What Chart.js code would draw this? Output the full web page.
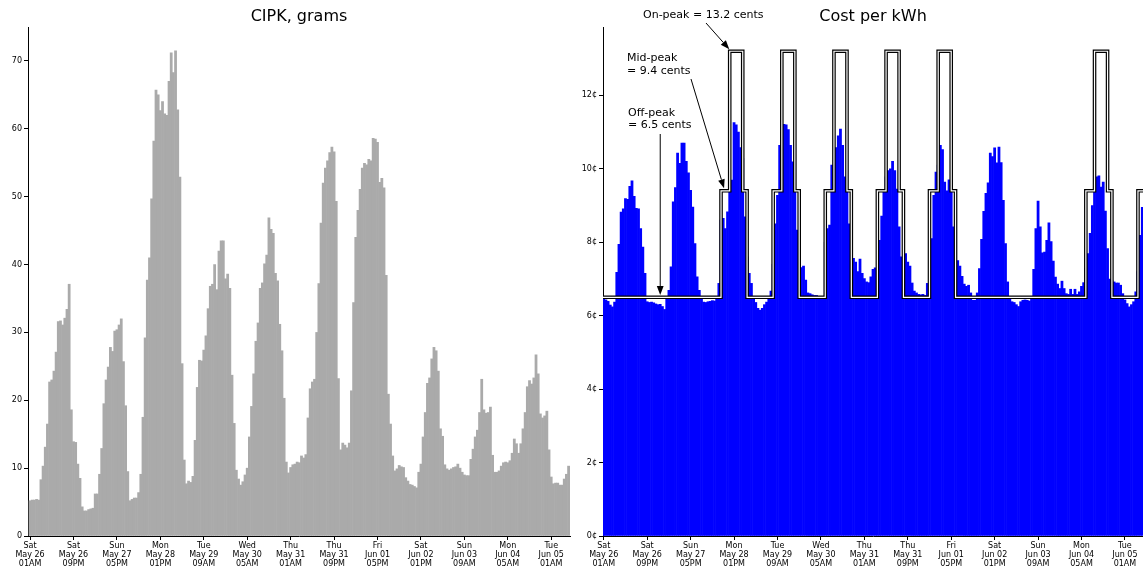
<!DOCTYPE html>
<html>
<head>
<meta charset="utf-8">
<title>CIPK and cost per kWh</title>
<script src="https://cdn.jsdelivr.net/npm/chart.js@4.4.1/dist/chart.umd.min.js"></script>
<style>
  html, body { margin: 0; padding: 0; background: #fff; width: 1143px; height: 571px; overflow: hidden; }
  canvas { position: absolute; top: 0; }
  #cipk { left: 0; }
  #cost { left: 574px; }
</style>
</head>
<body>
<canvas id="cipk" width="600" height="571"></canvas>
<canvas id="cost" width="569" height="571"></canvas>
<script>
// Hourly carbon intensity (grams per kWh), starting Sat May 26 01AM
const cipkGrams = [
  5.2, 5.3, 5.3, 5.4, 5.3, 8.3, 10.3, 13.1, 16.5, 22.7,
  23.0, 24.3, 27.1, 31.6, 31.7, 31.1, 32.1, 33.4, 37.1, 18.6,
  13.9, 13.8, 10.6, 8.5, 4.3, 3.7, 3.7, 3.9, 4.0, 4.1,
  6.2, 6.2, 9.1, 12.9, 19.5, 23.0, 24.9, 27.8, 27.2, 30.2,
  30.4, 31.1, 32.0, 25.7, 19.2, 9.5, 5.2, 5.4, 5.6, 5.6,
  6.4, 9.1, 17.5, 29.2, 37.7, 41.0, 49.7, 58.2, 65.7, 65.0,
  62.7, 64.0, 62.2, 62.0, 67.0, 71.2, 68.3, 71.5, 62.8, 52.9,
  25.4, 11.2, 7.7, 8.1, 7.9, 8.8, 14.1, 21.9, 25.9, 25.8,
  27.4, 29.5, 33.5, 36.8, 37.1, 40.0, 36.3, 42.0, 43.5, 43.5,
  37.9, 38.6, 36.5, 23.7, 16.6, 9.7, 8.4, 7.5, 8.0, 9.0,
  10.0, 14.6, 19.1, 23.9, 28.7, 31.4, 36.5, 37.3, 40.1, 41.4,
  46.9, 45.2, 44.6, 38.7, 37.6, 31.2, 27.3, 20.3, 10.9, 9.3,
  10.1, 10.5, 10.6, 10.9, 10.8, 11.8, 11.5, 12.0, 17.4, 21.7,
  22.7, 23.1, 30.0, 37.2, 46.1, 52.0, 54.2, 55.3, 56.5, 57.3,
  56.6, 49.3, 23.2, 12.7, 13.7, 13.4, 13.0, 13.7, 21.4, 34.4,
  44.0, 48.0, 51.1, 54.2, 54.9, 54.7, 55.5, 55.3, 58.6, 58.5,
  58.0, 52.1, 52.7, 51.3, 38.4, 20.9, 16.5, 11.8, 9.6, 9.9,
  10.4, 10.2, 10.1, 8.6, 8.1, 7.6, 7.5, 7.3, 7.1, 9.4,
  10.6, 14.6, 18.2, 22.5, 23.3, 26.1, 27.8, 27.3, 24.3, 15.8,
  14.7, 10.5, 9.9, 9.7, 9.9, 10.1, 10.2, 10.6, 10.0, 9.4,
  9.0, 8.9, 8.9, 11.3, 12.8, 14.6, 15.6, 18.2, 23.1, 18.6,
  18.1, 18.2, 19.0, 11.9, 9.4, 9.4, 9.6, 10.3, 10.8, 10.9,
  10.8, 11.1, 12.2, 14.3, 13.6, 12.2, 13.6, 15.8, 18.2, 22.0,
  22.9, 22.4, 23.3, 26.7, 23.9, 18.0, 17.4, 17.7, 18.4, 12.7,
  8.7, 7.7, 7.8, 7.8, 7.5, 7.5, 8.4, 9.1, 10.3
];

// Hourly cost in cents per kWh, same hours
const costCents = [
  6.47, 6.43, 6.39, 6.29, 6.24, 6.37, 7.18, 7.94, 8.82, 8.91,
  9.19, 9.17, 9.52, 9.67, 9.25, 8.92, 8.91, 8.37, 7.87, 7.15,
  6.38, 6.36, 6.37, 6.35, 6.32, 6.30, 6.31, 6.25, 6.17, 6.45,
  6.69, 7.33, 9.10, 9.49, 10.43, 10.15, 10.70, 10.70, 10.20, 9.89,
  9.41, 8.96, 7.96, 7.06, 6.69, 6.47, 6.37, 6.36, 6.38, 6.39,
  6.41, 6.40, 6.45, 6.88, 8.60, 8.65, 8.37, 8.83, 9.50, 9.69,
  11.26, 11.20, 11.00, 10.58, 10.28, 8.69, 7.60, 7.15, 6.88, 6.45,
  6.36, 6.20, 6.15, 6.20, 6.30, 6.37, 6.47, 6.67, 7.40, 8.50,
  9.28, 10.64, 11.00, 11.21, 11.20, 11.07, 10.64, 10.19, 9.41, 8.33,
  7.60, 7.31, 7.35, 6.97, 6.62, 6.60, 6.57, 6.55, 6.55, 6.50,
  6.52, 6.50, 8.00, 8.37, 8.47, 10.10, 9.40, 10.58, 10.90, 11.08,
  10.64, 9.78, 9.41, 8.50, 7.62, 7.56, 7.46, 7.20, 7.54, 7.15,
  7.01, 6.92, 6.90, 7.06, 7.26, 7.30, 7.50, 8.05, 8.71, 9.37,
  9.78, 9.95, 10.00, 10.20, 9.95, 9.45, 8.42, 7.60, 7.50, 7.69,
  7.46, 7.35, 6.89, 6.67, 6.62, 6.58, 6.57, 6.58, 6.55, 6.88,
  7.50, 8.10, 9.28, 9.91, 10.10, 10.64, 10.52, 9.64, 9.40, 9.70,
  9.41, 8.42, 7.60, 7.50, 7.35, 7.07, 6.86, 6.80, 6.83, 6.62,
  6.42, 6.42, 6.62, 7.28, 8.08, 8.84, 9.33, 9.62, 10.43, 10.33,
  10.57, 10.16, 10.59, 10.17, 9.14, 7.96, 6.92, 6.50, 6.38, 6.36,
  6.30, 6.25, 6.38, 6.42, 6.43, 6.42, 6.40, 6.47, 7.26, 8.37,
  9.12, 8.42, 7.71, 7.73, 8.05, 8.53, 8.02, 7.49, 7.05, 6.86,
  6.74, 6.94, 6.74, 6.60, 6.58, 6.72, 6.58, 6.72, 6.58, 6.65,
  6.80, 6.90, 7.30, 7.69, 8.24, 9.00, 9.37, 9.78, 9.81, 9.50,
  9.64, 8.85, 7.83, 7.00, 6.96, 6.92, 6.89, 6.89, 6.83, 6.60,
  6.43, 6.33, 6.24, 6.30, 6.38, 6.65, 7.20, 8.19, 8.95
];

// Time-of-use rate: hour where each price starts, and the price in cents
const rateHours = [-1, 54, 58, 64, 66, 78, 82, 88, 90, 102, 106, 112, 114,
                   126, 130, 136, 138, 150, 154, 160, 162, 222, 226, 232, 234, 246, 250];
const rateCents = [6.5, 9.4, 13.2, 9.4, 6.5, 9.4, 13.2, 9.4, 6.5, 9.4, 13.2, 9.4, 6.5,
                   9.4, 13.2, 9.4, 6.5, 9.4, 13.2, 9.4, 6.5, 9.4, 13.2, 9.4, 6.5, 9.4, 9.4];

// X tick positions (hours) and their three-line labels
const tickHours = [0, 20, 40, 60, 80, 100, 120, 140, 160, 180, 200, 220, 240];
const tickDays  = ['Sat', 'Sat', 'Sun', 'Mon', 'Tue', 'Wed', 'Thu', 'Thu', 'Fri', 'Sat', 'Sun', 'Mon', 'Tue'];
const tickDates = ['May 26', 'May 26', 'May 27', 'May 28', 'May 29', 'May 30', 'May 31', 'May 31',
                   'Jun 01', 'Jun 02', 'Jun 03', 'Jun 04', 'Jun 05'];
const tickTimes = ['01AM', '09PM', '05PM', '01PM', '09AM', '05AM', '01AM', '09PM', '05PM', '01PM', '09AM', '05AM', '01AM'];

const cipkTicks = [0, 10, 20, 30, 40, 50, 60, 70];
const costTicks = [0, 2, 4, 6, 8, 10, 12];

const FONT = "'DejaVu Sans', 'Liberation Sans', sans-serif";
Chart.defaults.font.family = FONT;
Chart.defaults.color = '#000';

function xAxis(min, max) {
  return {
    type: 'linear', min: min, max: max, offset: false,
    afterBuildTicks: s => { s.ticks = tickHours.map(v => ({ value: v })); },
    afterFit: s => { s.height = 35; },
    ticks: {
      autoSkip: false, maxRotation: 0, minRotation: 0, padding: 1, color: '#000',
      font: { size: 8, lineHeight: 1.16 },
      callback: v => {
        const k = tickHours.indexOf(v);
        return k < 0 ? '' : [tickDays[k], tickDates[k], tickTimes[k]];
      }
    },
    grid: { offset: false, drawOnChartArea: false, drawTicks: true, tickLength: 4, color: '#000', lineWidth: 1 },
    border: { display: true, color: '#000', width: 1 }
  };
}

function yAxis(max, values, fmt, width) {
  return {
    type: 'linear', min: 0, max: max,
    afterBuildTicks: s => { s.ticks = values.map(v => ({ value: v })); },
    afterFit: s => { s.width = width; },
    ticks: { padding: 2, color: '#000', font: { size: 8 }, callback: fmt },
    grid: { drawOnChartArea: false, drawTicks: true, tickLength: 4, color: '#000', lineWidth: 1 },
    border: { display: true, color: '#000', width: 1 }
  };
}

// Panel title centred over the plot area
const panelTitle = {
  id: 'panelTitle',
  afterDraw(chart, args, opts) {
    const { ctx, chartArea } = chart;
    ctx.save();
    ctx.font = '16px ' + FONT;
    ctx.fillStyle = '#000';
    ctx.textAlign = 'center';
    ctx.textBaseline = 'middle';
    ctx.fillText(opts.text, (chartArea.left + chartArea.right) / 2, 17);
    ctx.restore();
  }
};

function arrow(ctx, x0, y0, x1, y1) {
  const a = Math.atan2(y1 - y0, x1 - x0), len = 9, hw = 3.4;
  const bx = x1 - len * Math.cos(a), by = y1 - len * Math.sin(a);
  ctx.beginPath();
  ctx.moveTo(x0, y0);
  ctx.lineTo(bx, by);
  ctx.stroke();
  ctx.beginPath();
  ctx.moveTo(x1, y1);
  ctx.lineTo(bx + hw * Math.sin(a), by - hw * Math.cos(a));
  ctx.lineTo(bx - hw * Math.sin(a), by + hw * Math.cos(a));
  ctx.closePath();
  ctx.fill();
}

// Rate labels with arrows pointing at the price line
const rateNotes = [
  { lines: ['On-peak = 13.2 cents'], left: 69, top: 15, from: [132, 23], hour: 58, cents: 13.2, dx: -0.4, dy: -2 },
  { lines: ['Mid-peak', '= 9.4 cents'], left: 53, top: 58.3, from: [117, 79], hour: 54, cents: 9.4, dx: 3, dy: -2.5 },
  { lines: ['Off-peak', '= 6.5 cents'], left: 54, top: 112.7, from: [null, 134], hour: 26, cents: 6.5, dx: 0, dy: -2.3 }
];

const rateLabels = {
  id: 'rateLabels',
  afterDraw(chart) {
    const { ctx, scales } = chart;
    ctx.save();
    ctx.font = '11px ' + FONT;
    ctx.fillStyle = '#000';
    ctx.strokeStyle = '#000';
    ctx.lineWidth = 1;
    ctx.textAlign = 'left';
    ctx.textBaseline = 'middle';
    rateNotes.forEach(n => {
      n.lines.forEach((t, k) => ctx.fillText(t, n.left, n.top + k * 12.8));
      const tx = scales.x.getPixelForValue(n.hour) + n.dx;
      const ty = scales.y.getPixelForValue(n.cents) + n.dy;
      const sx = n.from[0] === null ? tx : n.from[0];
      arrow(ctx, sx, n.from[1], tx, ty);
    });
    ctx.restore();
  }
};

function barSet(values, color) {
  return {
    type: 'bar',
    data: values.map((v, i) => ({ x: i, y: v })),
    backgroundColor: color,
    borderWidth: 0,
    inflateAmount: 0.3,
    barPercentage: 1,
    categoryPercentage: 1,
    order: 3
  };
}

const baseOptions = (pad, title) => ({
  responsive: false,
  animation: false,
  devicePixelRatio: 1,
  layout: { padding: pad },
  plugins: { legend: { display: false }, tooltip: { enabled: false }, panelTitle: { text: title } },
  events: []
});

new Chart(document.getElementById('cipk'), {
  type: 'bar',
  data: { datasets: [barSet(cipkGrams, '#aaaaaa')] },
  options: Object.assign(baseOptions({ top: 27, right: 30, left: 0, bottom: 0 }, 'CIPK, grams'), {
    scales: {
      x: xAxis(-0.95, 248.65),
      y: yAxis(75, cipkTicks, v => String(v), 28)
    }
  }),
  plugins: [panelTitle]
});

const ratePoints = rateHours.map((h, k) => ({ x: h, y: rateCents[k] }));

new Chart(document.getElementById('cost'), {
  type: 'bar',
  data: {
    datasets: [
      barSet(costCents, '#0000ff'),
      { type: 'line', data: ratePoints, stepped: true, borderColor: '#000', borderWidth: 3.6,
        pointRadius: 0, fill: false, order: 2 },
      { type: 'line', data: ratePoints, stepped: true, borderColor: '#ffffff', borderWidth: 1.2,
        pointRadius: 0, fill: false, order: 1 }
    ]
  },
  options: Object.assign(baseOptions({ top: 27, right: 0, left: 0, bottom: 0 }, 'Cost per kWh'), {
    scales: {
      x: xAxis(-0.35, 248.32),
      y: yAxis(13.86, costTicks, v => v + '¢', 29)
    }
  }),
  plugins: [panelTitle, rateLabels]
});
</script>
</body>
</html>
